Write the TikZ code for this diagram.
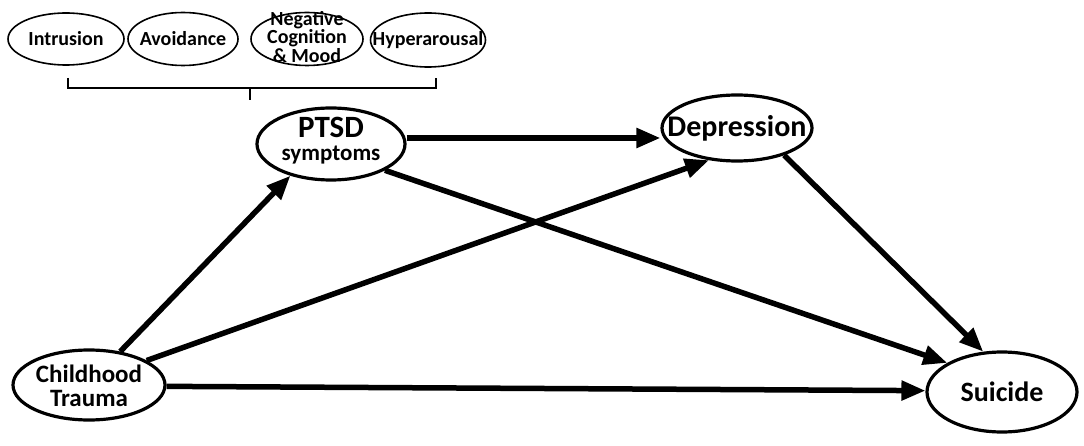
\documentclass[tikz,border=0pt]{standalone}
\usepackage{fontspec}
\setmainfont{Carlito}
\usetikzlibrary{shapes,backgrounds}
\usetikzlibrary{arrows.meta}

\begin{document}
\begin{tikzpicture}[x=1pt,y=-1pt,
  oval/.style={draw,ellipse,line width=3.2pt,inner sep=0pt},
  small/.style={draw,ellipse,line width=1.6pt,inner sep=0pt},
  txt/.style={inner sep=0pt,align=center,font=\bfseries},
  smalltxt/.style={inner sep=0pt,align=center,font=\fontsize{20}{15}\selectfont\bfseries},
  path/.style={line width=5.5pt,-{Triangle[length=24pt,width=19pt]}}]
\useasboundingbox (0,0) rectangle (1084,446);
% the four symptom clusters
\node[small,minimum width=116pt,minimum height=52pt] (intr) at (66,39) {};
\node[smalltxt] (intrlbl) at (intr) {Intrusion};
\node[small,minimum width=110pt,minimum height=53pt] (avoid) at (183,39) {};
\node[smalltxt] (avoidlbl) at (avoid) {Avoidance};
\node[small,minimum width=112pt,minimum height=53pt] (neg) at (307,39) {};
\node[smalltxt] (neglbl) at (307,37) {Negative\\Cognition\\\&~Mood};
\node[small,minimum width=115pt,minimum height=54pt] (hyper) at (428,40) {};
\node[smalltxt] (hyperlbl) at (hyper) {Hyperarousal};
\draw[line width=1.6pt] (68,78) -- (68,88) -- (436,88) -- (436,78);
\draw[line width=1.6pt] (250,88) -- (250,100);
% main variables
\node[oval,minimum width=148pt,minimum height=72pt] (ptsd) at (331,144) {};
\node[txt,font=\fontsize{31}{31}\selectfont\bfseries] (ptsdlbl) at (331,141)
  {PTSD\\[-8pt]{\fontsize{23}{23}\selectfont symptoms}};
\node[oval,minimum width=150pt,minimum height=66pt] (dep) at (737,128) {};
\node[txt,font=\fontsize{30}{30}\selectfont\bfseries] (deplbl) at (dep) {Depression};
\node[oval,minimum width=152pt,minimum height=70pt] (trauma) at (89,385) {};
\node[txt,font=\fontsize{25}{24}\selectfont\bfseries] (traumalbl) at (89,386) {Childhood\\Trauma};
\node[oval,minimum width=150pt,minimum height=80pt] (sui) at (1002,392) {};
\node[txt,font=\fontsize{28}{28}\selectfont\bfseries] (suilbl) at (sui) {Suicide};
% paths
\draw[path] (ptsd.east |- 0,138) -- (dep.west |- 0,138);
\draw[path] (ptsd.-26) -- (sui.152);
\draw[path] (dep.-30) -- (sui.115);
\draw[path] (trauma.47) -- (ptsd.-142);
\draw[path] (trauma.23) -- (dep.-131);
\draw[path] (trauma.-1) -- (sui.179);
\end{tikzpicture}
\end{document}
